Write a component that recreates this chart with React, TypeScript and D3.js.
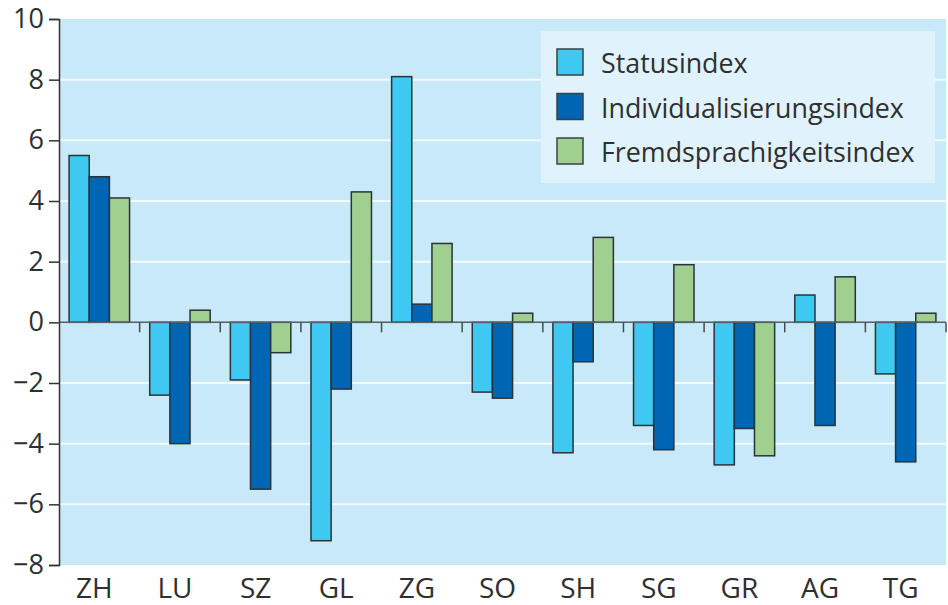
import React, { useEffect, useRef } from "react";
import * as d3 from "d3";

const cantons = ["ZH", "LU", "SZ", "GL", "ZG", "SO", "SH", "SG", "GR", "AG", "TG"];
const seriesNames = ["Statusindex", "Individualisierungsindex", "Fremdsprachigkeitsindex"];
const statusIndex = [5.5, -2.4, -1.9, -7.2, 8.1, -2.3, -4.3, -3.4, -4.7, 0.9, -1.7];
const individualIndex = [4.8, -4.0, -5.5, -2.2, 0.6, -2.5, -1.3, -4.2, -3.5, -3.4, -4.6];
const foreignLangIndex = [4.1, 0.4, -1.0, 4.3, 2.6, 0.3, 2.8, 1.9, -4.4, 1.5, 0.3];
const yTicks = [10, 8, 6, 4, 2, 0, -2, -4, -6, -8];
const colors = ["#3ec8f2", "#0066b3", "#9fd08f"];

function App() {
  const ref = useRef<SVGSVGElement>(null);

  useEffect(() => {
    const width = 948;
    const height = 605;
    const margin = { top: 19, right: 2, bottom: 40, left: 59 };
    const font = "'Open Sans', sans-serif";
    const series = [statusIndex, individualIndex, foreignLangIndex];

    const svg = d3.select(ref.current);
    svg.selectAll("*").remove();

    const x0 = d3
      .scaleBand()
      .domain(cantons)
      .range([margin.left, width - margin.right])
      .padding(0);
    const bw = x0.bandwidth();
    const x1 = d3
      .scaleBand()
      .domain(seriesNames)
      .range([bw * 0.125, bw * 0.875]);
    const y = d3
      .scaleLinear()
      .domain([-8, 10])
      .range([height - margin.bottom, margin.top]);

    // background
    svg
      .append("rect")
      .attr("x", margin.left)
      .attr("y", y(10))
      .attr("width", width - margin.right - margin.left)
      .attr("height", y(-8) - y(10))
      .attr("fill", "#c8e9f8");

    // gridlines
    svg
      .append("g")
      .selectAll("line")
      .data(yTicks.filter(d => d !== 10 && d !== -8 && d !== 0))
      .enter()
      .append("line")
      .attr("x1", margin.left)
      .attr("x2", width - margin.right)
      .attr("y1", d => y(d))
      .attr("y2", d => y(d))
      .attr("stroke", "#f2fafd")
      .attr("stroke-width", 2);

    // bars
    const groups = svg
      .append("g")
      .selectAll("g")
      .data(cantons)
      .enter()
      .append("g")
      .attr("transform", d => `translate(${x0(d)},0)`);

    groups
      .selectAll("rect")
      .data((d, i) => seriesNames.map((name, s) => ({ name, s, value: series[s][i] })))
      .enter()
      .append("rect")
      .attr("x", d => x1(d.name)!)
      .attr("width", x1.bandwidth())
      .attr("y", d => y(Math.max(0, d.value)))
      .attr("height", d => Math.abs(y(d.value) - y(0)))
      .attr("fill", d => colors[d.s])
      .attr("stroke", "#2b3338")
      .attr("stroke-width", 1.5);

    // zero line with category ticks
    svg
      .append("line")
      .attr("x1", margin.left)
      .attr("x2", width - margin.right)
      .attr("y1", y(0))
      .attr("y2", y(0))
      .attr("stroke", "#555f66")
      .attr("stroke-width", 1.5);
    svg
      .append("g")
      .selectAll("line")
      .data(cantons)
      .enter()
      .append("line")
      .attr("x1", d => x0(d)! + bw)
      .attr("x2", d => x0(d)! + bw)
      .attr("y1", y(0))
      .attr("y2", y(0) + 10)
      .attr("stroke", "#444c52")
      .attr("stroke-width", 1.5);

    // y axis
    const yAxis = svg
      .append("g")
      .attr("transform", `translate(${margin.left},0)`)
      .call(
        d3
          .axisLeft(y)
          .tickValues(yTicks)
          .tickSize(10)
          .tickPadding(5)
          .tickFormat(d => d3.format("d")(d as number).replace("-", "\u2212"))
      );
    yAxis.select(".domain").attr("stroke", "#333").attr("stroke-width", 1.5);
    yAxis.selectAll(".tick line").attr("stroke", "#333").attr("stroke-width", 1.5);
    yAxis
      .selectAll(".tick text")
      .attr("font-family", font)
      .attr("font-size", 27)
      .attr("fill", "#2f2f2f");

    // category labels
    svg
      .append("g")
      .selectAll("text")
      .data(cantons)
      .enter()
      .append("text")
      .attr("x", d => x0(d)! + bw / 2 - 5)
      .attr("y", 598)
      .attr("text-anchor", "middle")
      .attr("font-family", font)
      .attr("font-size", 28)
      .attr("fill", "#2f2f2f")
      .text(d => d);

    // legend
    const legend = svg.append("g");
    legend
      .append("rect")
      .attr("x", 541)
      .attr("y", 31)
      .attr("width", 394)
      .attr("height", 152)
      .attr("fill", "#e0f3fc");
    const items = legend
      .selectAll("g")
      .data(seriesNames)
      .enter()
      .append("g")
      .attr("transform", (d, i) => `translate(557,${49 + i * 44.5})`);
    items
      .append("rect")
      .attr("width", 26)
      .attr("height", 26)
      .attr("fill", (d, i) => colors[i])
      .attr("stroke", "#3a4247")
      .attr("stroke-width", 1.5);
    items
      .append("text")
      .attr("x", 44)
      .attr("y", 24)
      .attr("font-family", font)
      .attr("font-size", 26.8)
      .attr("fill", "#2f2f2f")
      .text(d => d);
  });

  return (
    <svg
      ref={ref}
      width={948}
      height={605}
      style={{ position: "absolute", left: 0, top: 0, background: "#fff" }}
    />
  );
}

export default App;
